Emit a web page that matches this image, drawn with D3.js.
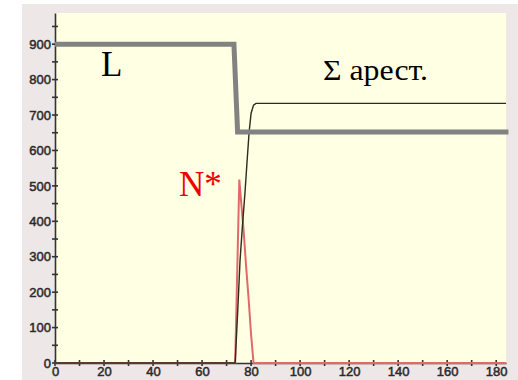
<!DOCTYPE html>
<html>
<head>
<meta charset="utf-8">
<script src="https://cdn.jsdelivr.net/npm/d3@7"></script>
<style>
  html, body { margin: 0; padding: 0; background: #ffffff; }
  svg { display: block; }
</style>
</head>
<body>
<svg id="chart" width="518" height="380"></svg>
<script>
// Limit L: steps down from 900 to ~652 at t ≈ 74
const limitTime = [0, 73, 74.5, 185];
const limitValue = [900, 900, 652, 652];

// Cumulative arrests Σ: rises steeply after t ≈ 73.5 and saturates near 733
const sumTime = [0, 73.5, 74.5, 75.5, 76.5, 77.5, 78.4, 79.2, 80, 81, 82, 184];
const sumValue = [0, 0, 140, 290, 390, 480, 573, 652, 705, 728, 733, 733];

// N*: short pulse peaking at ~515 around t = 75
const nTime = [0, 73, 73.5, 75.2, 76, 77, 78, 79, 80, 81, 184];
const nValue = [0, 0, 0, 518, 450, 370, 270, 180, 80, 0, 0];

const xTicksMajor = [0, 20, 40, 60, 80, 100, 120, 140, 160, 180];
const xTicksMinor = d3.range(10, 184, 20);
const yTicksMajor = [0, 100, 200, 300, 400, 500, 600, 700, 800, 900];
const yTicksMinor = d3.range(50, 990, 100);

const svg = d3.select("#chart");
const plot = { left: 55, right: 506, top: 13, bottom: 363 };

// frame and plot background
svg.append("rect").attr("x", 22).attr("y", 4).attr("width", 496).attr("height", 376).attr("fill", "#eee7e7");
svg.append("rect").attr("x", plot.left).attr("y", plot.top)
  .attr("width", plot.right - plot.left).attr("height", plot.bottom - plot.top).attr("fill", "#ffffe3");

const x = d3.scaleLinear().domain([0, 184]).range([plot.left, plot.right]);
const y = d3.scaleLinear().domain([0, 988]).range([plot.bottom, plot.top]);

const axisColor = "#333333";
const font = "Arial, 'Liberation Sans', sans-serif";

// x axis
const gx = svg.append("g").attr("transform", `translate(0,${plot.bottom})`);
gx.call(d3.axisBottom(x).tickValues(xTicksMajor).tickSize(0).tickPadding(4).tickFormat(d3.format("d")));
gx.attr("font-size", 13).attr("font-family", font);
gx.select(".domain").attr("stroke", axisColor).attr("stroke-width", 1.6);
gx.selectAll("text").style("font-size", "13px").attr("fill", "#2a2a2a")
  .attr("stroke", "#2a2a2a").attr("stroke-width", 0.5);
gx.selectAll(".tick-mark").data(xTicksMajor.concat(xTicksMinor)).join("line")
  .attr("x1", d => x(d)).attr("x2", d => x(d)).attr("y1", -3).attr("y2", 3)
  .attr("stroke", axisColor).attr("stroke-width", 1.6);

// y axis
const gy = svg.append("g").attr("transform", `translate(${plot.left},0)`);
gy.call(d3.axisLeft(y).tickValues(yTicksMajor).tickSize(0).tickPadding(4).tickFormat(d3.format("d")));
gy.attr("font-size", 13).attr("font-family", font);
gy.select(".domain").attr("stroke", axisColor).attr("stroke-width", 1.6);
gy.selectAll("text").style("font-size", "13px").attr("fill", "#2a2a2a")
  .attr("stroke", "#2a2a2a").attr("stroke-width", 0.5);
gy.selectAll(".tick-mark").data(yTicksMajor.concat(yTicksMinor)).join("line")
  .attr("y1", d => y(d)).attr("y2", d => y(d)).attr("x1", -3).attr("x2", 3)
  .attr("stroke", axisColor).attr("stroke-width", 1.6);

const line = d3.line().x(d => x(d[0])).y(d => y(d[1]));

// N* pulse (drawn first so it sits along the baseline)
svg.append("path").datum(d3.zip(nTime, nValue)).attr("d", line)
  .attr("fill", "none").attr("stroke", "#e06a6a").attr("stroke-width", 2);

// Σ arrests
svg.append("path").datum(d3.zip(sumTime, sumValue)).attr("d", line)
  .attr("fill", "none").attr("stroke", "#2b2b1e").attr("stroke-width", 1.4);

// limit L
svg.append("path").datum(d3.zip(limitTime, limitValue)).attr("d", line)
  .attr("fill", "none").attr("stroke", "#828282").attr("stroke-width", 5)
  .attr("stroke-linejoin", "miter");

// labels
const serif = "'Liberation Serif', 'DejaVu Serif', 'Times New Roman', serif";
svg.append("text").attr("x", 101).attr("y", 76).attr("font-family", serif)
  .attr("font-size", 35).attr("fill", "#000").text("L");
svg.append("text").attr("x", 323).attr("y", 80).attr("font-family", serif)
  .attr("font-size", 29).attr("fill", "#000")
  .attr("textLength", 105).attr("lengthAdjust", "spacingAndGlyphs").text("Σ арест.");
svg.append("text").attr("x", 179).attr("y", 196).attr("font-family", serif)
  .attr("font-size", 35).attr("fill", "#ee0000").text("N*");
</script>
</body>
</html>
